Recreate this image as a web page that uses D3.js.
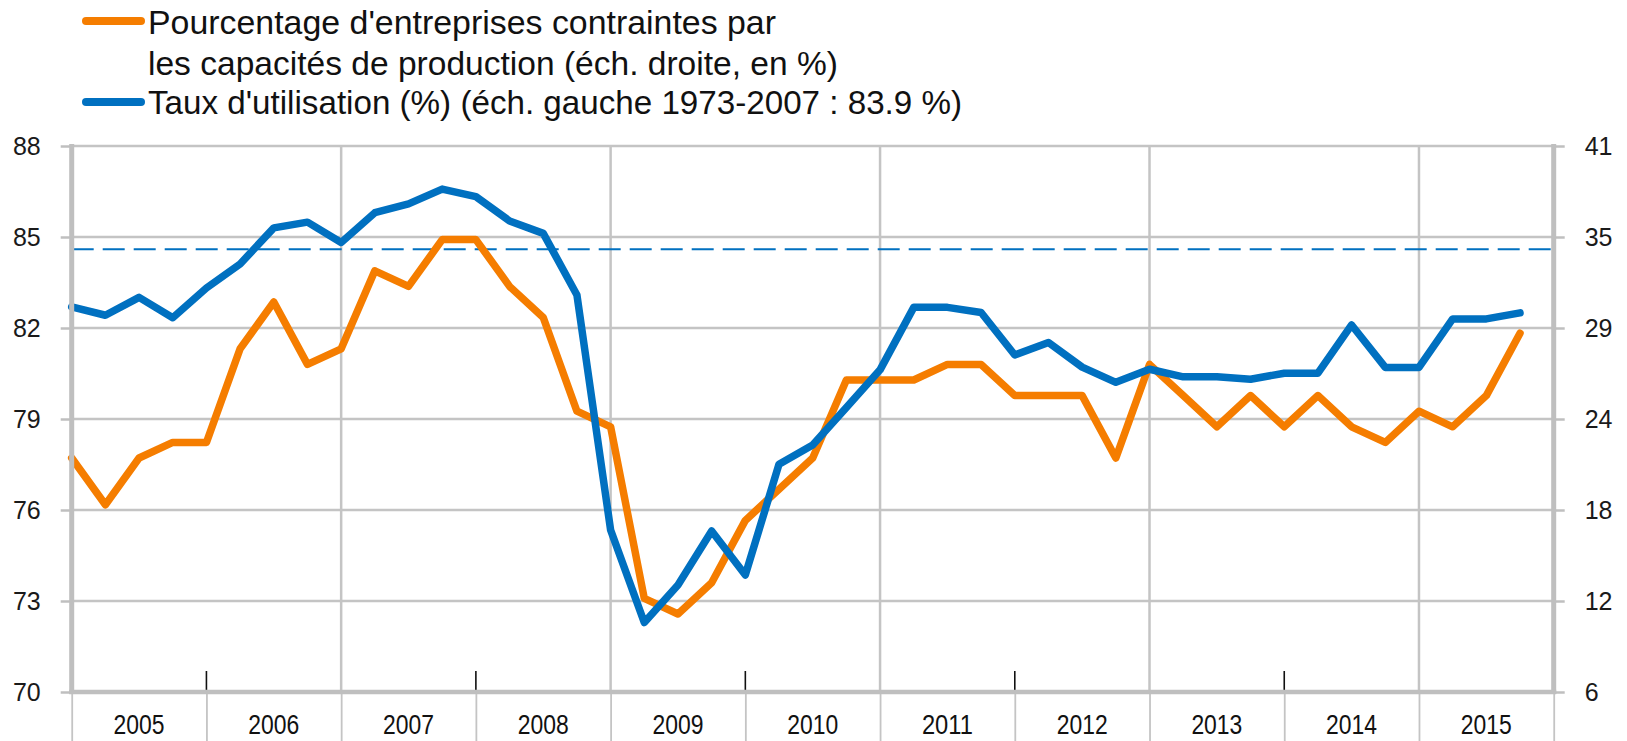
<!DOCTYPE html>
<html>
<head>
<meta charset="utf-8">
<script src="https://cdn.jsdelivr.net/npm/d3@7"></script>
<style>
  html, body { margin: 0; padding: 0; background: #ffffff; }
  svg { display: block; }
</style>
</head>
<body>
<svg id="chart" width="1627" height="741"></svg>
<script>
// ---------------- DATA ----------------
const years = ["2005","2006","2007","2008","2009","2010","2011","2012","2013","2014","2015"];
const quartersPerYear = 4;

// Taux d'utilisation des capacités (%), échelle gauche
const utilisation = [
  82.70, 82.42, 83.01, 82.34,
  83.32, 84.11, 85.30, 85.49,
  84.82, 85.80, 86.09, 86.58,
  86.33, 85.53, 85.12, 83.09,
  75.34, 72.29, 73.53, 75.31,
  73.86, 77.51, 78.14, 79.38,
  80.62, 82.68, 82.68, 82.51,
  81.11, 81.52, 80.71, 80.21,
  80.64, 80.39, 80.39, 80.31,
  80.51, 80.51, 82.10, 80.70,
  80.70, 82.30, 82.30, 82.50
];

// Pourcentage d'entreprises contraintes par les capacités de production, échelle droite
const contraintes = [
  21, 18, 21, 22,
  22, 28, 31, 27,
  28, 33, 32, 35,
  35, 32, 30, 24,
  23, 12, 11, 13,
  17, 19, 21, 26,
  26, 26, 27, 27,
  25, 25, 25, 21,
  27, 25, 23, 25,
  23, 25, 23, 22,
  24, 23, 25, 29
];

// Ligne de référence (moyenne 1973-2007), telle que tracée
const moyenneRef = 84.6;

const leftTicks = [70, 73, 76, 79, 82, 85, 88];
const rightDomain = [6, 41];
const rightTickLabels = ["6", "12", "18", "24", "29", "35", "41"];

const legendLabels = [
  ["Pourcentage d'entreprises contraintes par", "les capacités de production (éch. droite, en %)"],
  ["Taux d'utilisation (%) (éch. gauche 1973-2007 : 83.9 %)"]
];

// ---------------- LAYOUT ----------------
const colOrange = "#f57d00";
const colBlue = "#0070c0";
const gridCol = "#c4c4c4";
const axisCol = "#bfbfbf";

const x0 = 71.7, x1 = 1553.7, yTop = 146, yBot = 692;
const nPeriods = years.length * quartersPerYear;

const svg = d3.select("#chart");

const x = d3.scaleLinear().domain([0, nPeriods]).range([x0, x1]);
const yL = d3.scaleLinear().domain([70, 88]).range([yBot, yTop]);
const yR = d3.scaleLinear().domain(rightDomain).range([yBot, yTop]);
const rightTickValues = rightTickLabels.map((_, k) =>
  rightDomain[0] + k * (rightDomain[1] - rightDomain[0]) / (rightTickLabels.length - 1));

// horizontal gridlines
svg.append("g").selectAll("line").data(leftTicks).join("line")
  .attr("x1", x0).attr("x2", x1)
  .attr("y1", d => yL(d)).attr("y2", d => yL(d))
  .attr("stroke", gridCol).attr("stroke-width", 2.5);

// vertical gridlines every two years
const gridYears = d3.range(2, years.length, 2).map(k => k * quartersPerYear);
svg.append("g").selectAll("line").data(gridYears).join("line")
  .attr("x1", d => x(d)).attr("x2", d => x(d))
  .attr("y1", yTop).attr("y2", yBot)
  .attr("stroke", gridCol).attr("stroke-width", 2.5);

// dashed reference line
svg.append("line")
  .attr("x1", x0).attr("x2", x1)
  .attr("y1", yL(moyenneRef)).attr("y2", yL(moyenneRef))
  .attr("stroke", colBlue).attr("stroke-width", 2)
  .attr("stroke-dasharray", "22,9");

// series
const lineR = d3.line().x((d, i) => x(i)).y(d => yR(d));
const lineL = d3.line().x((d, i) => x(i)).y(d => yL(d));

svg.append("path").datum(contraintes)
  .attr("d", lineR).attr("fill", "none")
  .attr("stroke", colOrange).attr("stroke-width", 7.5)
  .attr("stroke-linejoin", "round").attr("stroke-linecap", "round");

svg.append("path").datum(utilisation)
  .attr("d", lineL).attr("fill", "none")
  .attr("stroke", colBlue).attr("stroke-width", 7.5)
  .attr("stroke-linejoin", "round").attr("stroke-linecap", "round");

// left axis
const gl = svg.append("g").attr("transform", `translate(${x0},0)`)
  .call(d3.axisLeft(yL).tickValues(leftTicks).tickSize(11).tickPadding(20).tickFormat(d3.format("d")));
gl.select(".domain").remove();
gl.selectAll(".tick line").attr("stroke", axisCol).attr("stroke-width", 2.5);
gl.selectAll(".tick text").attr("font-family", "'Liberation Sans', Arial, sans-serif")
  .attr("font-size", 25).attr("fill", "#1a1a1a");

// right axis
const gr = svg.append("g").attr("transform", `translate(${x1},0)`)
  .call(d3.axisRight(yR).tickValues(rightTickValues).tickSize(11).tickPadding(20)
    .tickFormat((d, i) => rightTickLabels[i]));
gr.select(".domain").remove();
gr.selectAll(".tick line").attr("stroke", axisCol).attr("stroke-width", 2.5);
gr.selectAll(".tick text").attr("font-family", "'Liberation Sans', Arial, sans-serif")
  .attr("font-size", 25).attr("fill", "#1a1a1a");

// bottom: separators below axis at each year boundary
const yearBounds = d3.range(0, years.length + 1).map(k => k * quartersPerYear);
const gb = svg.append("g").attr("transform", `translate(0,${yBot})`)
  .call(d3.axisBottom(x).tickValues(yearBounds).tickSize(60).tickFormat(""));
gb.select(".domain").remove();
gb.selectAll(".tick line").attr("stroke", gridCol).attr("stroke-width", 1.8);

// black ticks above axis at odd year boundaries
const blackTicks = d3.range(1, years.length, 2).map(k => k * quartersPerYear);
svg.append("g").selectAll("line").data(blackTicks).join("line")
  .attr("x1", d => x(d)).attr("x2", d => x(d))
  .attr("y1", yBot - 21).attr("y2", yBot)
  .attr("stroke", "#111").attr("stroke-width", 1.6);

// axis lines
svg.append("line").attr("x1", x0).attr("x2", x0).attr("y1", yTop - 2).attr("y2", yBot + 2)
  .attr("stroke", axisCol).attr("stroke-width", 5);
svg.append("line").attr("x1", x1).attr("x2", x1).attr("y1", yTop - 2).attr("y2", yBot + 2)
  .attr("stroke", axisCol).attr("stroke-width", 5);
svg.append("line").attr("x1", x0 - 2.5).attr("x2", x1 + 2.5).attr("y1", yBot).attr("y2", yBot)
  .attr("stroke", axisCol).attr("stroke-width", 4.5);

// year labels
svg.append("g").selectAll("text").data(years).join("text")
  .attr("x", (d, k) => x(k * quartersPerYear + quartersPerYear / 2))
  .attr("y", 734)
  .attr("text-anchor", "middle")
  .attr("font-family", "'Liberation Sans Narrow', 'Liberation Sans', Arial, sans-serif")
  .attr("font-size", 28)
  .attr("textLength", 51).attr("lengthAdjust", "spacingAndGlyphs")
  .attr("fill", "#111")
  .text(d => d);

// legend
const legend = svg.append("g");
const legendItems = [
  { color: colOrange, lines: legendLabels[0], sampleY: 21, baselines: [34, 75], widths: [628, 690] },
  { color: colBlue, lines: legendLabels[1], sampleY: 102, baselines: [114], widths: [814] }
];
legendItems.forEach(item => {
  legend.append("line")
    .attr("x1", 86).attr("x2", 141)
    .attr("y1", item.sampleY).attr("y2", item.sampleY)
    .attr("stroke", item.color).attr("stroke-width", 8)
    .attr("stroke-linecap", "round");
  item.lines.forEach((t, j) => {
    legend.append("text")
      .attr("x", 148).attr("y", item.baselines[j])
      .attr("font-family", "'Liberation Sans Narrow', 'Liberation Sans', Arial, sans-serif")
      .attr("font-size", 34)
      .attr("textLength", item.widths[j]).attr("lengthAdjust", "spacingAndGlyphs")
      .attr("fill", "#111")
      .text(t);
  });
});
</script>
</body>
</html>
